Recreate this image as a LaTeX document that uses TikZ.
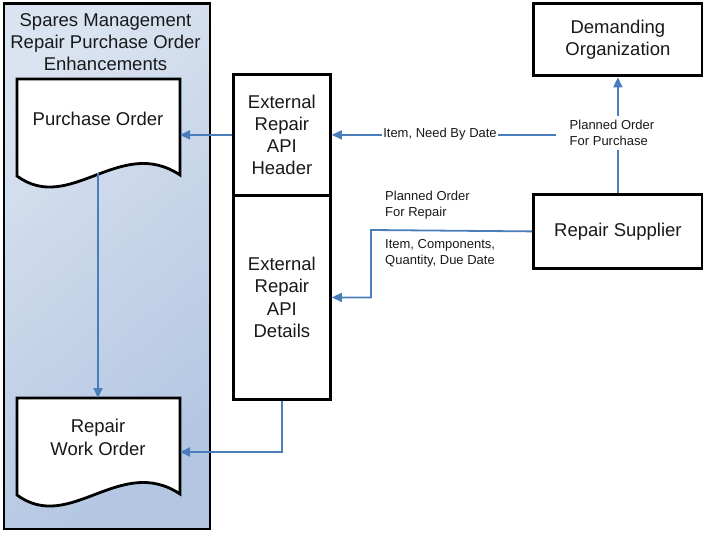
\documentclass[tikz,border=0pt]{standalone}
\usepackage{fontspec}
\setmainfont{Liberation Sans}
\usetikzlibrary{arrows.meta,calc}
\definecolor{linkblue}{HTML}{4A7EBB}
\definecolor{panelA}{HTML}{DAE3F0}
\definecolor{panelB}{HTML}{B3C6E2}
\begin{document}
\begin{tikzpicture}[x=1pt,y=-1pt,
  box/.style={draw=black,line width=2.8pt,fill=white},
  big/.style={font=\fontsize{18.5}{22.3}\selectfont,align=center,text=black!90},
  small/.style={font=\fontsize{13}{16}\selectfont,align=left,text=black!90},
  link/.style={draw=linkblue,line width=1.8pt,-{Triangle[length=10pt,width=9pt]}}]
\useasboundingbox (0,0) rectangle (703,532);
% panel
\node[draw=black,line width=2.8pt,minimum width=206pt,minimum height=525pt,anchor=north west,
  top color=panelA,bottom color=panelB,shading angle=40] (panel) at (2.5,2.5) {};
\node[big] (ptitle) at (105.5,42) {Spares Management\\Repair Purchase Order\\Enhancements};
% documents
\draw[box] (17,79) -- (180,79) -- (180,175) .. controls (120,135) and (70,215) .. (17,176) -- cycle;
\draw[box] (17,398) -- (180,398) -- (180,494) .. controls (120,454) and (70,534) .. (17,495) -- cycle;
\node[big] (po) at (98,119) {Purchase Order};
\node[big] (rwo) at (98,437.5) {Repair\\Work Order};
\coordinate (poR) at (180,134);
\coordinate (poB) at (98,173);
\coordinate (rwoT) at (98,398);
\coordinate (rwoR) at (180,452);
% API boxes
\node[box,big,minimum width=97pt,minimum height=121pt,anchor=north west] (hdr) at (232,73) {External\\Repair\\API\\Header};
\node[box,big,minimum width=97pt,minimum height=204pt,anchor=north west] (det) at (232,194) {External\\Repair\\API\\Details};
% right boxes
\node[box,big,minimum width=169pt,minimum height=72pt,anchor=north west] (dem) at (532,2.5) {Demanding\\Organization};
\node[box,big,minimum width=169pt,minimum height=74pt,anchor=north west] (rs) at (532,193) {Repair Supplier};
% connectors
\coordinate (tap) at (rs.north |- hdr.east);
\coordinate (bend) at (371,230);
\draw[link] (rs.north) -- (dem.south);
\draw[link] (tap) -- (hdr.east);
\draw[link] (hdr.west) -- (hdr.west -| poR);
\draw[link] (rs.west) -- (bend) |- (det.east);
\draw[link] (det.south) |- (rwoR);
\draw[link] (poB) -- (rwoT);
% labels
\node[small,fill=white,inner xsep=1pt,inner ysep=2pt] (l1) at (440,134) {Item, Need By Date};
\node[small,fill=white,inner xsep=14pt,inner ysep=4pt] (l2) at (612,133) {Planned Order\\For Purchase};
\node[small,inner sep=0pt,anchor=west] (l3) at (385,205) {Planned Order\\For Repair};
\node[small,inner sep=0pt,anchor=west] (l4) at (385,253) {Item, Components,\\Quantity, Due Date};
\end{tikzpicture}
\end{document}
